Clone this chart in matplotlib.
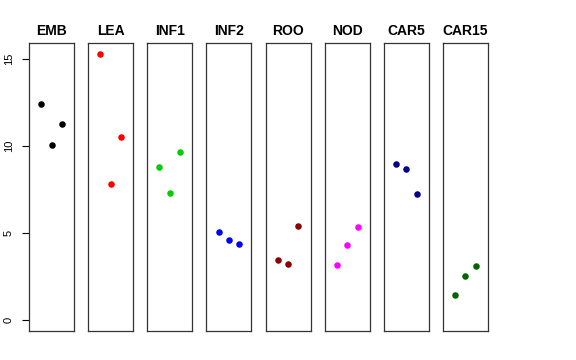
import matplotlib.pyplot as plt

# groups and their three values each (x = 1, 2, 3)
groups = ['EMB', 'LEA', 'INF1', 'INF2', 'ROO', 'NOD', 'CAR5', 'CAR15']
colors = ['black', 'red', '#00CD00', 'blue', '#8B0000', 'magenta', '#00008B', '#006400']
emb = [12.40, 10.05, 11.25]
lea = [15.30, 7.85, 10.52]
inf1 = [8.78, 7.28, 9.66]
inf2 = [5.08, 4.60, 4.39]
roo = [3.47, 3.26, 5.40]
nod = [3.18, 4.35, 5.36]
car5 = [8.98, 8.66, 7.26]
car15 = [1.46, 2.57, 3.12]
values = [emb, lea, inf1, inf2, roo, nod, car5, car15]
xs = [1, 2, 3]

plt.rcParams['font.family'] = ['Liberation Sans', 'DejaVu Sans']

fig = plt.figure(figsize=(5.76, 3.6), dpi=100)
W, H = 576.0, 360.0
top, bottom = 43.0, 331.0
ymax = max(max(v) for v in values)
ypad = ymax * 0.04

for i, (name, vals, col) in enumerate(zip(groups, values, colors)):
    left = 29.0 + i * 59.14
    ax = fig.add_axes([left / W, 1 - bottom / H, 45.0 / W, (bottom - top) / H])
    ax.plot(xs, vals, 'o', color=col, markersize=4.7, markeredgewidth=0)
    ax.set_xlim(-0.16, 4.16)
    ax.set_ylim(-ypad, ymax + ypad)
    ax.set_xticks([])
    ax.set_title(name, fontsize=10, fontweight='bold', pad=6)
    for s in ax.spines.values():
        s.set_color('#333333')
        s.set_linewidth(0.9)
    if i == 0:
        ax.set_yticks([0, 5, 10, 15])
        ax.tick_params(axis='y', length=5, width=0.8, labelsize=8, pad=6)
        for lab in ax.get_yticklabels():
            lab.set_rotation(90)
            lab.set_va('center')
    else:
        ax.set_yticks([])

fig.savefig('out.png', dpi=100)
